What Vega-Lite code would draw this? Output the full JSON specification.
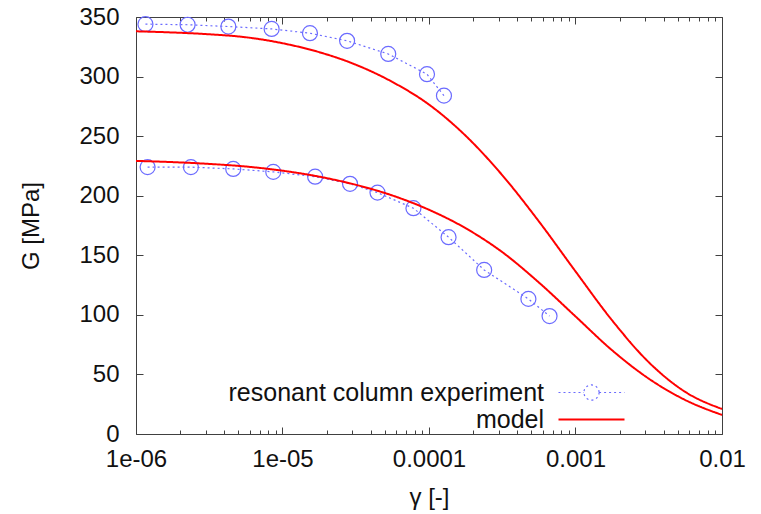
{
  "$schema": "https://vega.github.io/schema/vega-lite/v6.json",
  "width": 586,
  "height": 417,
  "autosize": "none",
  "padding": {"left": 136, "top": 17, "right": 39, "bottom": 80},
  "config": {
    "font": "Liberation Sans",
    "view": {"stroke": "#404040", "strokeWidth": 1},
    "axis": {"grid": false, "domain": false, "labelFontSize": 24, "titleFontSize": 24, "titleFontWeight": "normal", "labelColor": "#111", "titleColor": "#111", "tickColor": "#404040", "tickWidth": 1, "labelFlush": false}
  },
  "datasets": {
    "model": [
      {"curve": "upper", "series": "model", "g": 1e-6, "G": 338},
      {"curve": "upper", "series": "model", "g": 1.78e-6, "G": 337},
      {"curve": "upper", "series": "model", "g": 3.16e-6, "G": 335.5},
      {"curve": "upper", "series": "model", "g": 5.62e-6, "G": 333},
      {"curve": "upper", "series": "model", "g": 1e-5, "G": 328},
      {"curve": "upper", "series": "model", "g": 1.78e-5, "G": 320.5},
      {"curve": "upper", "series": "model", "g": 3.16e-5, "G": 310},
      {"curve": "upper", "series": "model", "g": 5.62e-5, "G": 295.5},
      {"curve": "upper", "series": "model", "g": 1e-4, "G": 276.5},
      {"curve": "upper", "series": "model", "g": 1.78e-4, "G": 250.3},
      {"curve": "upper", "series": "model", "g": 3.16e-4, "G": 217.3},
      {"curve": "upper", "series": "model", "g": 5.62e-4, "G": 178.5},
      {"curve": "upper", "series": "model", "g": 1e-3, "G": 136.5},
      {"curve": "upper", "series": "model", "g": 1.78e-3, "G": 95.3},
      {"curve": "upper", "series": "model", "g": 3.16e-3, "G": 60.3},
      {"curve": "upper", "series": "model", "g": 5.62e-3, "G": 35.3},
      {"curve": "upper", "series": "model", "g": 1e-2, "G": 21},
      {"curve": "lower", "series": "model", "g": 1e-6, "G": 229.2},
      {"curve": "lower", "series": "model", "g": 1.78e-6, "G": 228.2},
      {"curve": "lower", "series": "model", "g": 3.16e-6, "G": 226.7},
      {"curve": "lower", "series": "model", "g": 5.62e-6, "G": 224.5},
      {"curve": "lower", "series": "model", "g": 1e-5, "G": 221},
      {"curve": "lower", "series": "model", "g": 1.78e-5, "G": 216},
      {"curve": "lower", "series": "model", "g": 3.16e-5, "G": 209.2},
      {"curve": "lower", "series": "model", "g": 5.62e-5, "G": 200.2},
      {"curve": "lower", "series": "model", "g": 1e-4, "G": 188.2},
      {"curve": "lower", "series": "model", "g": 1.78e-4, "G": 172.7},
      {"curve": "lower", "series": "model", "g": 3.16e-4, "G": 152.7},
      {"curve": "lower", "series": "model", "g": 5.62e-4, "G": 127.2},
      {"curve": "lower", "series": "model", "g": 1e-3, "G": 98.7},
      {"curve": "lower", "series": "model", "g": 1.78e-3, "G": 70.2},
      {"curve": "lower", "series": "model", "g": 3.16e-3, "G": 46.5},
      {"curve": "lower", "series": "model", "g": 5.62e-3, "G": 28.5},
      {"curve": "lower", "series": "model", "g": 1e-2, "G": 16}
    ],
    "exp": [
      {"curve": "upper", "series": "resonant column experiment", "g": 1.16e-6, "G": 344},
      {"curve": "upper", "series": "resonant column experiment", "g": 2.25e-6, "G": 343.5},
      {"curve": "upper", "series": "resonant column experiment", "g": 4.27e-6, "G": 342},
      {"curve": "upper", "series": "resonant column experiment", "g": 8.43e-6, "G": 340},
      {"curve": "upper", "series": "resonant column experiment", "g": 1.54e-5, "G": 336.4},
      {"curve": "upper", "series": "resonant column experiment", "g": 2.76e-5, "G": 330},
      {"curve": "upper", "series": "resonant column experiment", "g": 5.27e-5, "G": 319},
      {"curve": "upper", "series": "resonant column experiment", "g": 9.69e-5, "G": 302},
      {"curve": "upper", "series": "resonant column experiment", "g": 1.265e-4, "G": 284},
      {"curve": "lower", "series": "resonant column experiment", "g": 1.2e-6, "G": 224},
      {"curve": "lower", "series": "resonant column experiment", "g": 2.37e-6, "G": 224},
      {"curve": "lower", "series": "resonant column experiment", "g": 4.61e-6, "G": 222.5},
      {"curve": "lower", "series": "resonant column experiment", "g": 8.65e-6, "G": 220},
      {"curve": "lower", "series": "resonant column experiment", "g": 1.67e-5, "G": 216},
      {"curve": "lower", "series": "resonant column experiment", "g": 2.89e-5, "G": 210},
      {"curve": "lower", "series": "resonant column experiment", "g": 4.45e-5, "G": 202.6},
      {"curve": "lower", "series": "resonant column experiment", "g": 7.83e-5, "G": 189.5},
      {"curve": "lower", "series": "resonant column experiment", "g": 1.36e-4, "G": 165.2},
      {"curve": "lower", "series": "resonant column experiment", "g": 2.38e-4, "G": 137.7},
      {"curve": "lower", "series": "resonant column experiment", "g": 4.77e-4, "G": 113.4},
      {"curve": "lower", "series": "resonant column experiment", "g": 6.65e-4, "G": 99}
    ]
  },
  "resolve": {"axis": {"x": "independent", "y": "independent"}},
  "layer": [
    {
      "data": {"name": "exp"},
      "mark": {"type": "line", "strokeWidth": 1.2},
      "encoding": {
        "x": {"field": "g", "type": "quantitative", "scale": {"type": "log", "domain": [1e-6, 0.01], "nice": false},
              "axis": {"orient": "top", "values": [1e-6, 1e-5, 1e-4, 1e-3, 1e-2], "tickSize": -7, "labels": false, "title": null}},
        "y": {"field": "G", "type": "quantitative", "scale": {"domain": [0, 350], "nice": false, "zero": true},
              "axis": {"orient": "right", "values": [0, 50, 100, 150, 200, 250, 300, 350], "tickSize": -7, "labels": false, "title": null}},
        "detail": {"field": "curve"},
        "color": {"field": "series", "type": "nominal",
                  "scale": {"domain": ["resonant column experiment", "model"], "range": ["#6b6bff", "#ff0000"]},
                  "legend": {"title": null, "orient": "none", "legendX": 443, "legendY": 363, "padding": 0,
                             "labelAlign": "right", "labelOffset": -60, "labelFontSize": 25, "labelColor": "#111", "labelLimit": 500,
                             "symbolType": "stroke", "symbolSize": 4356, "rowPadding": 1,
                             "encode": {"symbols": {"update": {
                               "shape": {"signal": "datum.value === 'model' ? 'M-1,0H1' : 'M-1,0H-0.23M0.23,0H1M0.23,0A0.23,0.23,0,1,1,-0.23,0A0.23,0.23,0,1,1,0.23,0'"},
                               "strokeWidth": {"signal": "datum.value === 'model' ? 2 : 1.2"}}}}}},
        "strokeDash": {"field": "series", "type": "nominal",
                       "scale": {"domain": ["resonant column experiment", "model"], "range": [[2, 3], [1, 0]]},
                       "legend": null}
      }
    },
    {
      "data": {"name": "exp"},
      "mark": {"type": "point", "shape": "circle", "filled": false, "size": 225, "strokeWidth": 1.2, "color": "#6b6bff", "opacity": 1},
      "encoding": {
        "x": {"field": "g", "type": "quantitative",
              "axis": {"orient": "bottom", "values": [2e-6,3e-6,4e-6,5e-6,6e-6,7e-6,8e-6,9e-6,2e-5,3e-5,4e-5,5e-5,6e-5,7e-5,8e-5,9e-5,2e-4,3e-4,4e-4,5e-4,6e-4,7e-4,8e-4,9e-4,2e-3,3e-3,4e-3,5e-3,6e-3,7e-3,8e-3,9e-3], "tickSize": -4, "labels": false, "title": null}},
        "y": {"field": "G", "type": "quantitative", "axis": null}
      }
    },
    {
      "data": {"name": "model"},
      "transform": [{"filter": "datum.curve === 'lower'"}],
      "mark": {"type": "line", "strokeWidth": 2, "interpolate": "monotone"},
      "encoding": {
        "x": {"field": "g", "type": "quantitative",
              "axis": {"orient": "top", "values": [2e-6,3e-6,4e-6,5e-6,6e-6,7e-6,8e-6,9e-6,2e-5,3e-5,4e-5,5e-5,6e-5,7e-5,8e-5,9e-5,2e-4,3e-4,4e-4,5e-4,6e-4,7e-4,8e-4,9e-4,2e-3,3e-3,4e-3,5e-3,6e-3,7e-3,8e-3,9e-3], "tickSize": -4, "labels": false, "title": null}},
        "y": {"field": "G", "type": "quantitative", "axis": null},
        "color": {"field": "series", "type": "nominal"},
        "strokeDash": {"field": "series", "type": "nominal"}
      }
    },
    {
      "data": {"name": "model"},
      "transform": [{"filter": "datum.curve === 'upper'"}],
      "mark": {"type": "line", "strokeWidth": 2, "interpolate": "monotone"},
      "encoding": {
        "x": {"field": "g", "type": "quantitative",
              "axis": {"orient": "bottom", "values": [1e-6, 1e-5, 1e-4, 1e-3, 1e-2], "tickSize": -7, "labelPadding": 20,
                       "labelExpr": "datum.value < 5e-6 ? '1e-06' : datum.value < 5e-5 ? '1e-05' : datum.value < 5e-4 ? '0.0001' : datum.value < 5e-3 ? '0.001' : '0.01'",
                       "title": "γ [-]", "titlePadding": 14}},
        "y": {"field": "G", "type": "quantitative",
              "axis": {"orient": "left", "values": [0, 50, 100, 150, 200, 250, 300, 350], "tickSize": -7, "labelPadding": 24,
                       "title": "G [MPa]", "titlePadding": 35}},
        "color": {"field": "series", "type": "nominal"},
        "strokeDash": {"field": "series", "type": "nominal"}
      }
    }
  ]
}
